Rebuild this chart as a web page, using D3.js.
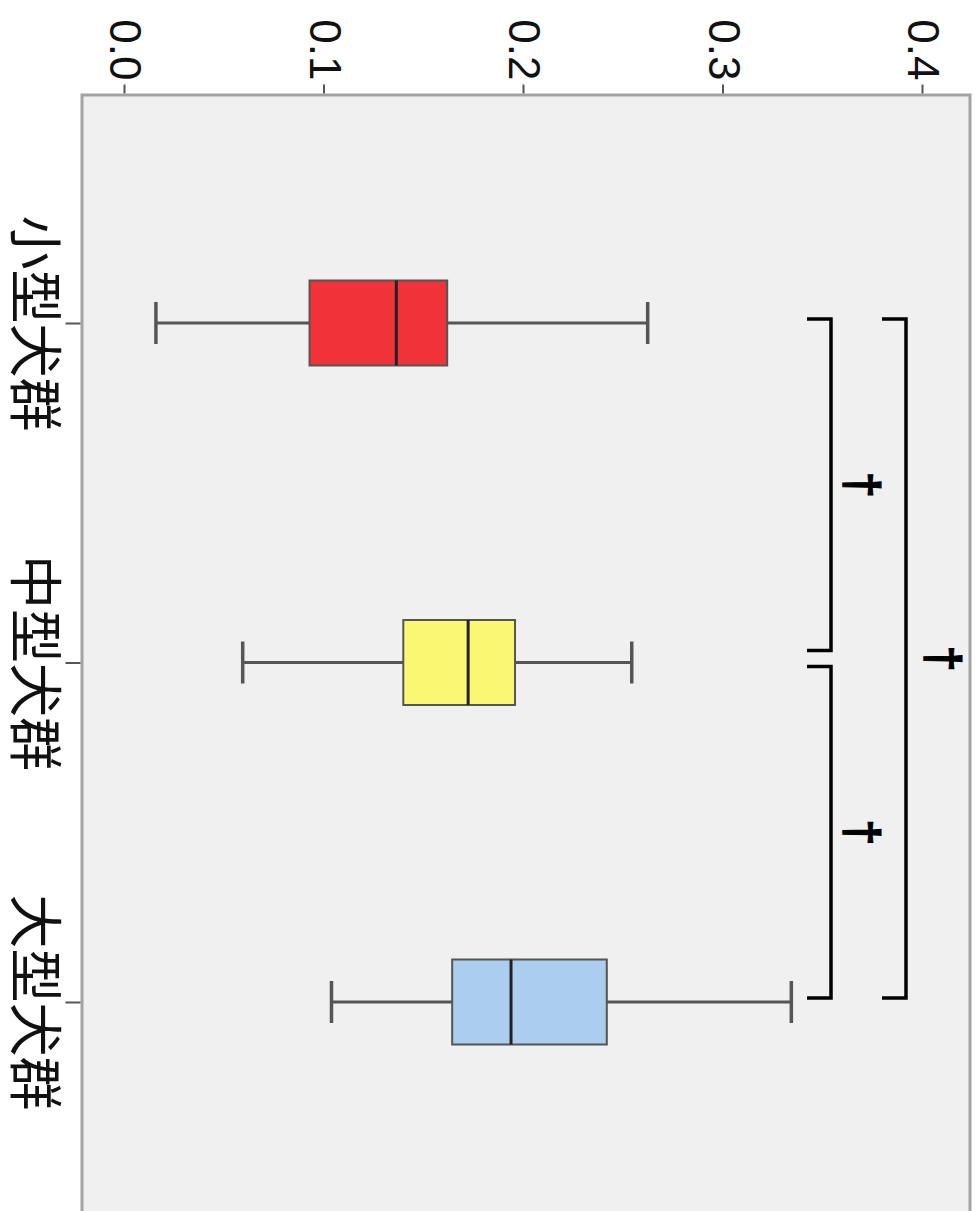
<!DOCTYPE html>
<html><head><meta charset="utf-8">
<script src="https://cdn.jsdelivr.net/npm/d3@7"></script>
<style>html,body{margin:0;padding:0;background:#fff;}svg{display:block;}</style>
</head><body>
<svg id="chart" width="980" height="1211"></svg>
<script>
// ---- data ----
const categories = ["小型犬群", "中型犬群", "大型犬群"];
const whiskerLow = [0.0155, 0.059, 0.1035];
const q1 = [0.0925, 0.1395, 0.164];
const median = [0.136, 0.172, 0.1935];
const q3 = [0.1615, 0.1955, 0.2415];
const whiskerHigh = [0.262, 0.254, 0.334];
const boxColors = ["#F03239", "#FAF872", "#ABCEEE"];
const yTicks = [0.0, 0.1, 0.2, 0.3, 0.4];
const compFrom = [0, 1, 0];
const compTo = [1, 2, 2];
const compLevel = [0, 0, 1];
const compLabel = ["†", "†", "†"];

// ---- layout (unrotated frame: width 1211, height 980; then rotated 90° clockwise) ----
const svg = d3.select("#chart");
const g = svg.append("g").attr("transform", "translate(980,0) rotate(90)");

const frame = {left: 95, right: 1260, top: 10, bottom: 898};
const y = d3.scaleLinear().domain([0, 0.4]).range([855, 57]);
const x = d3.scalePoint().domain(categories).range([323, 1002]);

g.append("rect")
  .attr("x", frame.left).attr("y", frame.top)
  .attr("width", frame.right - frame.left).attr("height", frame.bottom - frame.top)
  .attr("fill", "#F0F0F0").attr("stroke", "#A3A3A3").attr("stroke-width", 3);

// value axis
const yAxis = g.append("g").attr("transform", `translate(${frame.left - 1.5},0)`)
  .call(d3.axisLeft(y).tickValues(yTicks).tickFormat(d3.format(".1f")).tickSize(9).tickPadding(4));
yAxis.select(".domain").remove();
yAxis.selectAll(".tick line").attr("stroke", "#555").attr("stroke-width", 2);
yAxis.selectAll("text").attr("font-family", "Liberation Sans, Arial, sans-serif")
  .attr("font-size", 44).attr("fill", "#111");

// category axis
const xAxis = g.append("g").attr("transform", `translate(0,${frame.bottom + 1.5})`)
  .call(d3.axisBottom(x).tickSize(15).tickPadding(12));
xAxis.select(".domain").remove();
xAxis.selectAll(".tick line").attr("stroke", "#555").attr("stroke-width", 2);
xAxis.selectAll("text").attr("font-family", "Noto Sans CJK JP, sans-serif")
  .attr("font-size", 54).attr("fill", "#111");

// boxes
const boxW = 85, capW = 42;
const idx = d3.range(categories.length);
const bg = g.append("g").selectAll("g").data(idx).join("g");
bg.append("line")
  .attr("x1", i => x(categories[i])).attr("x2", i => x(categories[i]))
  .attr("y1", i => y(whiskerLow[i])).attr("y2", i => y(q1[i]))
  .attr("stroke", "#555").attr("stroke-width", 3);
bg.append("line")
  .attr("x1", i => x(categories[i])).attr("x2", i => x(categories[i]))
  .attr("y1", i => y(q3[i])).attr("y2", i => y(whiskerHigh[i]))
  .attr("stroke", "#555").attr("stroke-width", 3);
[whiskerLow, whiskerHigh].forEach(arr => {
  bg.append("line")
    .attr("x1", i => x(categories[i]) - capW / 2).attr("x2", i => x(categories[i]) + capW / 2)
    .attr("y1", i => y(arr[i])).attr("y2", i => y(arr[i]))
    .attr("stroke", "#555").attr("stroke-width", 3.5);
});
bg.append("rect")
  .attr("x", i => x(categories[i]) - boxW / 2).attr("width", boxW)
  .attr("y", i => y(q3[i])).attr("height", i => y(q1[i]) - y(q3[i]))
  .attr("fill", i => boxColors[i]).attr("stroke", "#555").attr("stroke-width", 2);
bg.append("line")
  .attr("x1", i => x(categories[i]) - boxW / 2).attr("x2", i => x(categories[i]) + boxW / 2)
  .attr("y1", i => y(median[i])).attr("y2", i => y(median[i]))
  .attr("stroke", "#222").attr("stroke-width", 3);

// significance brackets
const levelY = [149, 74];
const armLen = 24;
const mid = 1;
const cg = g.append("g").selectAll("g").data(d3.range(compFrom.length)).join("g");
function xs(k) {
  const a = compFrom[k], b = compTo[k];
  let s = x(categories[a]) - 4, e = x(categories[b]) - 4;
  if (compLevel[k] === 0) {
    if (a === mid) s += 8;
    if (b === mid) e -= 8;
  }
  return [s, e];
}
cg.append("path")
  .attr("d", k => {
    const [s, e] = xs(k), ly = levelY[compLevel[k]];
    return `M${s},${ly + armLen}V${ly}H${e}V${ly + armLen}`;
  })
  .attr("fill", "none").attr("stroke", "#000").attr("stroke-width", 3.5);
cg.append("text")
  .attr("x", k => { const [s, e] = xs(k); return (s + e) / 2; })
  .attr("y", k => levelY[compLevel[k]] - 15 - compLevel[k] * 6)
  .attr("text-anchor", "middle")
  .attr("font-family", "Liberation Sans, Arial, sans-serif").attr("font-size", 48)
  .attr("font-weight", "bold").attr("fill", "#000")
  .attr("stroke", "#000").attr("stroke-width", 1)
  .text(k => compLabel[k]);
</script>
</body></html>
